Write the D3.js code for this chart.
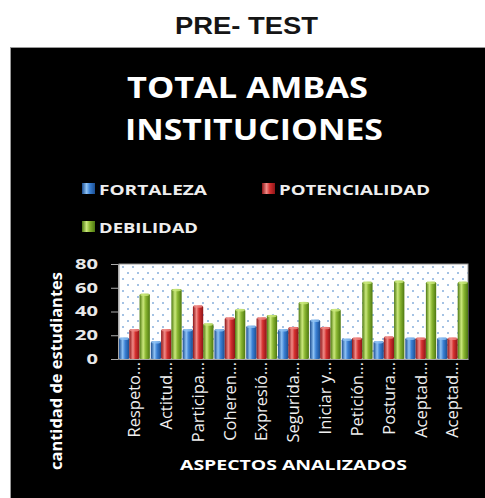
<!DOCTYPE html>
<html>
<head>
<meta charset="utf-8">
<script src="https://cdn.jsdelivr.net/npm/d3@7.9.0/dist/d3.min.js"></script>
<style>
  body { margin: 0; background: #fff; }
  svg { display: block; }
</style>
</head>
<body>
<svg id="chart" width="485" height="498"></svg>
<script>
const categories = ['Respeto...', 'Actitud...', 'Participa...', 'Coheren...', 'Expresió...', 'Segurida...',
  'Iniciar y...', 'Petición...', 'Postura...', 'Aceptad...', 'Aceptad...'];
const fortaleza = [18, 15, 25, 25, 28, 25, 33, 17, 15, 18, 18];
const potencialidad = [25, 25, 45, 35, 35, 27, 27, 18, 19, 18, 18];
const debilidad = [55, 59, 30, 42, 37, 48, 42, 65, 66, 65, 65];
const seriesNames = ['FORTALEZA', 'POTENCIALIDAD', 'DEBILIDAD'];
const yTicks = [0, 20, 40, 60, 80];

const series = [fortaleza, potencialidad, debilidad];
const palette = [
  { dark: '#1b4d90', mid: '#3a80d4', light: '#8ec2f4' },
  { dark: '#8c1417', mid: '#d4302f', light: '#f08a86' },
  { dark: '#4d7810', mid: '#8ab632', light: '#cbe87c' }
];

const svg = d3.select('#chart');
const defs = svg.append('defs');

palette.forEach((c, i) => {
  const g = defs.append('linearGradient').attr('id', 'grad' + i)
    .attr('x1', '0%').attr('x2', '100%').attr('y1', '0%').attr('y2', '0%');
  g.append('stop').attr('offset', '0%').attr('stop-color', c.dark);
  g.append('stop').attr('offset', '35%').attr('stop-color', c.light);
  g.append('stop').attr('offset', '60%').attr('stop-color', c.mid);
  g.append('stop').attr('offset', '100%').attr('stop-color', c.dark);
});

const pat = defs.append('pattern').attr('id', 'dots')
  .attr('width', 10).attr('height', 12).attr('patternUnits', 'userSpaceOnUse');
pat.append('rect').attr('width', 10).attr('height', 12).attr('fill', '#fff');
pat.append('circle').attr('cx', 3).attr('cy', 3).attr('r', 1).attr('fill', '#86aedb');
pat.append('circle').attr('cx', 8).attr('cy', 9).attr('r', 1).attr('fill', '#86aedb');

// helper for horizontally stretched text
function label(x, yy, txt, opts) {
  const t = svg.append('text').attr('x', x).attr('y', yy)
    .attr('text-anchor', opts.anchor || 'start')
    .attr('font-family', opts.family || 'Open Sans, DejaVu Sans, sans-serif')
    .attr('font-weight', opts.weight || 'bold')
    .attr('font-size', opts.size)
    .attr('fill', opts.fill || '#fff')
    .text(txt);
  if (opts.len) t.attr('textLength', opts.len).attr('lengthAdjust', 'spacingAndGlyphs');
  return t;
}

// heading above the panel
label(246.5, 34, 'PRE- TEST', { anchor: 'middle', family: 'Liberation Sans, Arial, sans-serif',
  size: 24, fill: '#151515', len: 143 });

// black panel
svg.append('rect').attr('x', 10.5).attr('y', 47.5).attr('width', 480).attr('height', 460)
  .attr('fill', '#000').attr('stroke', '#999').attr('stroke-width', 1);

label(247.5, 98, 'TOTAL AMBAS', { anchor: 'middle', size: 28, len: 241 });
label(254, 140, 'INSTITUCIONES', { anchor: 'middle', size: 28, len: 258 });

// legend
const legendPos = [[82, 195, 108], [262, 195, 151], [82, 233, 99]];
seriesNames.forEach((name, i) => {
  const [lx, ly, len] = legendPos[i];
  svg.append('rect').attr('x', lx).attr('y', ly - 12).attr('width', 13).attr('height', 11)
    .attr('fill', 'url(#grad' + i + ')');
  label(lx + 17, ly, name, { size: 15, len: len, fill: '#eee' });
});

// plot
const m = { left: 119, right: 468, top: 264, bottom: 359 };
const x = d3.scaleBand().domain(d3.range(categories.length))
  .range([m.left, m.right]).paddingInner(0.03).paddingOuter(0);
const xs = d3.scaleBand().domain(d3.range(series.length)).range([0, x.bandwidth()]);
const y = d3.scaleLinear().domain([0, 80]).range([m.bottom, m.top]);

svg.append('rect').attr('x', m.left).attr('y', m.top)
  .attr('width', m.right - m.left).attr('height', m.bottom - m.top)
  .attr('fill', 'url(#dots)').attr('stroke', '#999');

series.forEach((vals, si) => {
  const g = svg.append('g');
  g.selectAll('rect').data(vals).join('rect')
    .attr('x', (d, i) => x(i) + xs(si))
    .attr('y', d => y(d))
    .attr('width', xs.bandwidth())
    .attr('height', d => y(0) - y(d))
    .attr('rx', 1.5)
    .attr('fill', 'url(#grad' + si + ')');
  g.selectAll('ellipse').data(vals).join('ellipse')
    .attr('cx', (d, i) => x(i) + xs(si) + xs.bandwidth() / 2)
    .attr('cy', d => y(d) + 1)
    .attr('rx', xs.bandwidth() / 2 - 0.5).attr('ry', 1.3)
    .attr('fill', palette[si].light).attr('opacity', 0.8);
});

const yAxis = svg.append('g').attr('transform', `translate(${m.left - 1},0)`)
  .call(d3.axisLeft(y).tickValues(yTicks).tickSize(7).tickPadding(13));
yAxis.select('.domain').attr('stroke', '#aaa');
yAxis.selectAll('.tick line').attr('stroke', '#aaa');
yAxis.selectAll('.tick text').attr('fill', '#e8e8e8')
  .attr('font-family', 'Open Sans, DejaVu Sans, sans-serif').attr('font-weight', 'bold')
  .attr('font-size', 14)
  .attr('textLength', d => String(d).length * 11.5).attr('lengthAdjust', 'spacingAndGlyphs');

const xAxis = svg.append('g').attr('transform', `translate(0,${m.bottom})`)
  .call(d3.axisBottom(x).tickFormat(i => categories[i]).tickSize(0));
xAxis.select('.domain').attr('stroke', '#aaa');
xAxis.selectAll('.tick text')
  .attr('fill', '#f0f0f0').attr('font-family', 'Open Sans, DejaVu Sans, sans-serif')
  .attr('font-size', 16.5)
  .attr('text-anchor', 'end').attr('dy', '0.35em')
  .attr('transform', 'translate(0,3) rotate(-90)')
  .attr('x', 0).attr('y', 0);

svg.append('text').attr('transform', 'translate(62,371) rotate(-90)')
  .attr('text-anchor', 'middle')
  .attr('font-family', 'Open Sans, DejaVu Sans, sans-serif')
  .attr('font-weight', 'bold').attr('font-size', 16).attr('fill', '#fff')
  .attr('textLength', 198).attr('lengthAdjust', 'spacingAndGlyphs')
  .text('cantidad de estudiantes');

label(293.5, 470, 'ASPECTOS  ANALIZADOS', { anchor: 'middle', size: 14, len: 227 });
</script>
</body>
</html>
